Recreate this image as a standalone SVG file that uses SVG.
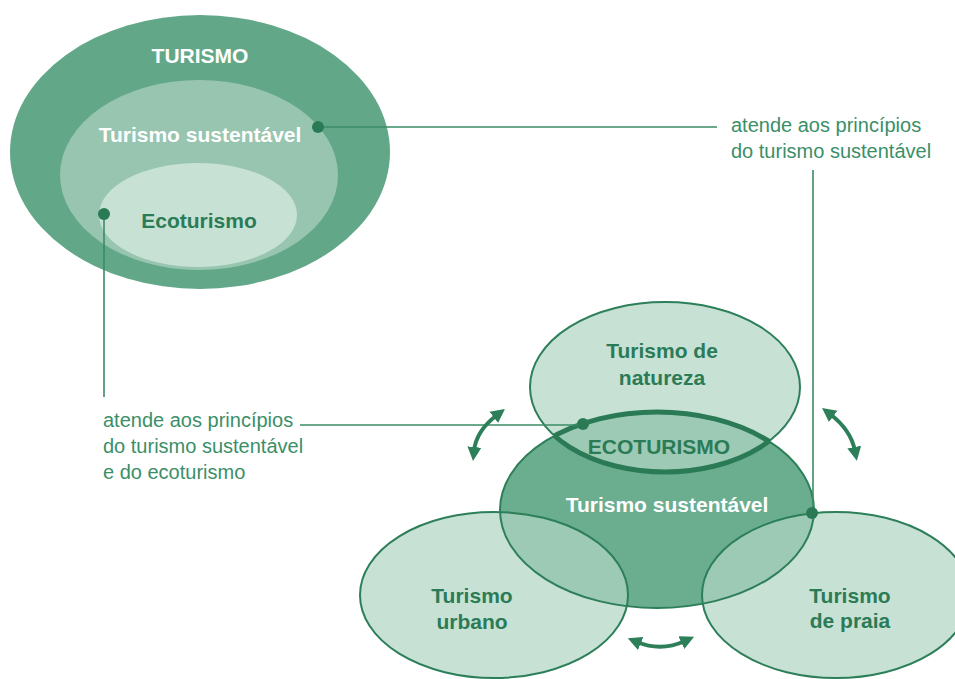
<svg xmlns="http://www.w3.org/2000/svg" width="955" height="679" viewBox="0 0 955 679">
  <defs>
    <style>
      .t { font-family: "Liberation Sans", Arial, sans-serif; }
      .b { font-weight: bold; font-size: 21px; text-anchor: middle; }
      .w { fill: #ffffff; }
      .d { fill: #2b7b56; }
      .lbl { font-size: 20px; fill: #3b8f68; }
      .edge { stroke: #2c7f59; stroke-width: 2; fill: none; }
      .thick { stroke: #2a7b55; stroke-width: 5; fill: none; }
      .conn { stroke: #3a8c66; stroke-width: 1.6; fill: none; }
      .arr { stroke: #2c7f59; stroke-width: 4; fill: none; marker-start: url(#ah); marker-end: url(#ah); }
      .dot { fill: #2a7b55; }
      .light { fill: #c7e1d5; }
      .mid { fill: #9dcab5; }
      .dark { fill: #6aae8f; }
    </style>
    <marker id="ah" markerUnits="userSpaceOnUse" markerWidth="16" markerHeight="16" refX="4" refY="7" orient="auto-start-reverse" viewBox="0 0 16 14">
      <path d="M0,0 L14,7 L0,14 Z" fill="#2c7f59"/>
    </marker>
    <clipPath id="cSust">
      <ellipse cx="657" cy="510" rx="157" ry="98"/>
    </clipPath>
    <clipPath id="cNat">
      <ellipse cx="665" cy="387" rx="135" ry="85"/>
    </clipPath>
  </defs>

  <rect width="955" height="679" fill="#ffffff"/>

  <!-- Top nested diagram -->
  <g id="turismo">
    <ellipse cx="200" cy="152" rx="190" ry="137" fill="#62a888"/>
    <text class="t b w" x="200" y="63">TURISMO</text>
  </g>
  <g id="turismo-sustentavel-top">
    <ellipse cx="199" cy="175" rx="139" ry="95" fill="#97c5b0"/>
    <text class="t b w" x="200" y="142">Turismo sustentável</text>
  </g>
  <g id="ecoturismo-top">
    <ellipse cx="198" cy="215" rx="99" ry="52" fill="#c7e1d5"/>
    <text class="t b d" x="199" y="228">Ecoturismo</text>
  </g>

  <!-- Bottom cluster: fills -->
  <g id="turismo-urbano">
    <ellipse class="light" cx="494" cy="595" rx="134" ry="83"/>
  </g>
  <g id="turismo-praia">
    <ellipse class="light" cx="836" cy="595" rx="134" ry="83"/>
  </g>
  <g id="turismo-natureza">
    <ellipse class="light" cx="665" cy="387" rx="135" ry="85"/>
  </g>
  <g id="turismo-sustentavel">
    <ellipse class="dark" cx="657" cy="510" rx="157" ry="98"/>
  </g>
  <g id="overlaps" clip-path="url(#cSust)">
    <ellipse class="mid" cx="494" cy="595" rx="134" ry="83"/>
    <ellipse class="mid" cx="836" cy="595" rx="134" ry="83"/>
    <ellipse class="mid" cx="665" cy="387" rx="135" ry="85"/>
  </g>
  <g id="outlines">
    <ellipse class="edge" cx="494" cy="595" rx="134" ry="83"/>
    <ellipse class="edge" cx="836" cy="595" rx="134" ry="83"/>
    <ellipse class="edge" cx="665" cy="387" rx="135" ry="85"/>
    <ellipse class="edge" cx="657" cy="510" rx="157" ry="98"/>
  </g>
  <g id="ecoturismo">
    <ellipse class="thick" cx="657" cy="510" rx="157" ry="98" clip-path="url(#cNat)"/>
    <ellipse class="thick" cx="665" cy="387" rx="135" ry="85" clip-path="url(#cSust)"/>
    <text class="t b d" x="659" y="454">ECOTURISMO</text>
  </g>
  <g id="labels-bottom">
    <text class="t b d" x="662" y="358">Turismo de</text>
    <text class="t b d" x="662" y="385">natureza</text>
    <text class="t b w" x="667" y="512">Turismo sustentável</text>
    <text class="t b d" x="472" y="603">Turismo</text>
    <text class="t b d" x="472" y="629">urbano</text>
    <text class="t b d" x="850" y="603">Turismo</text>
    <text class="t b d" x="850" y="628">de praia</text>
  </g>

  <!-- Connectors -->
  <g id="connectors">
    <polyline class="conn" points="318,127 717,127"/>
    <line class="conn" x1="813" y1="170" x2="813" y2="513"/>
    <line class="conn" x1="104" y1="214" x2="104" y2="397"/>
    <line class="conn" x1="300" y1="425" x2="583" y2="425"/>
    <circle class="dot" cx="318" cy="127" r="6"/>
    <circle class="dot" cx="104" cy="214" r="6"/>
    <circle class="dot" cx="583" cy="424" r="6"/>
    <circle class="dot" cx="812" cy="513" r="6"/>
    <path class="arr" d="M497,415 Q476,431 474,451"/>
    <path class="arr" d="M830,414 Q851,430 855,451"/>
    <path class="arr" d="M637,642 Q661,652 685,641"/>
  </g>

  <g id="annotation-right">
    <text class="t lbl" x="731" y="132">atende aos princípios</text>
    <text class="t lbl" x="731" y="158">do turismo sustentável</text>
  </g>
  <g id="annotation-left">
    <text class="t lbl" x="103" y="427">atende aos princípios</text>
    <text class="t lbl" x="103" y="453">do turismo sustentável</text>
    <text class="t lbl" x="103" y="479">e do ecoturismo</text>
  </g>
</svg>
